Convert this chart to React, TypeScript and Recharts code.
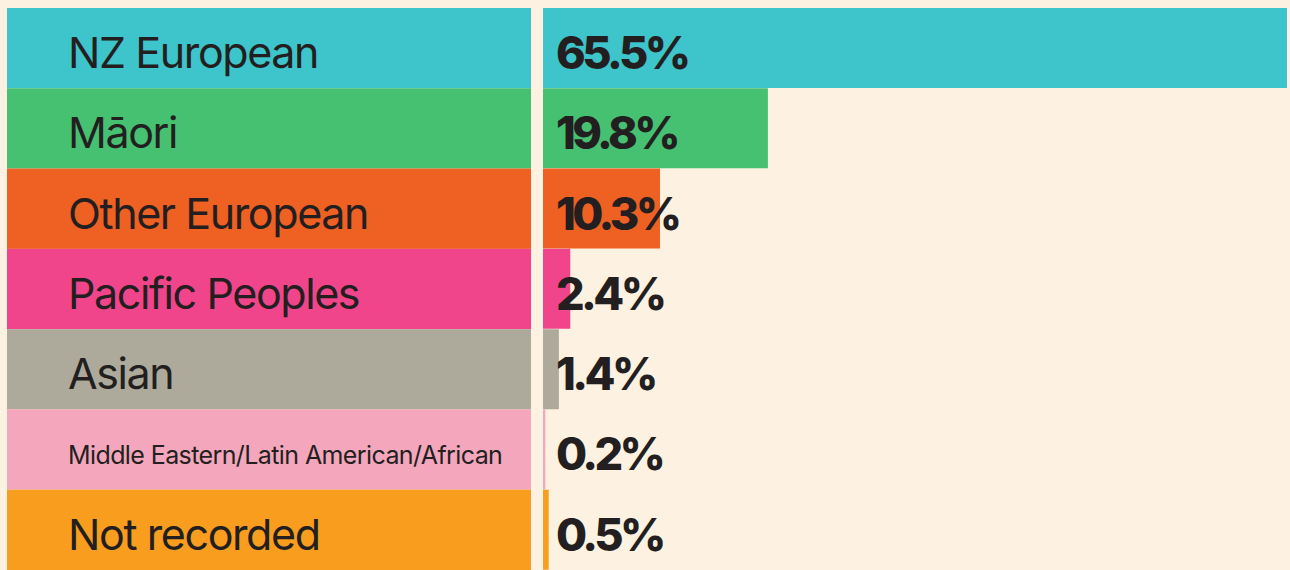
import { BarChart, Bar, XAxis, YAxis, Cell, LabelList } from 'recharts';

const groups = ['NZ European', 'Māori', 'Other European', 'Pacific Peoples', 'Asian', 'Middle Eastern/Latin American/African', 'Not recorded'];
const shares = [65.5, 19.8, 10.3, 2.4, 1.4, 0.2, 0.5];
const colors = ['#3EC4CB', '#46C172', '#EF6023', '#F0458A', '#ADAA9C', '#F4A7BC', '#F89D1E'];

const data = groups.map((g, i) => ({ group: g, share: shares[i], color: colors[i] }));

const BG = '#FDF1E1';
const INK = '#231F20';
const ROW_H = 562 / groups.length;

function GroupTick({ y, payload, index }: any) {
  const small = payload.value.length > 20;
  return (
    <g>
      <rect x={7} y={y - ROW_H / 2} width={524} height={ROW_H} fill={colors[index]} />
      <text x={68} y={y + (small ? 14 : 20)} fill={INK} fontSize={small ? 25 : 43} letterSpacing={small ? -0.6 : -1.4} fontFamily="Inter, sans-serif" textAnchor="start">
        {payload.value}
      </text>
    </g>
  );
}

function ValueLabel({ y, height, value }: any) {
  return (
    <text x={556} y={y + height / 2 + 21} fill={INK} fontSize={45} fontWeight={800} letterSpacing={-3.6} fontFamily="Inter, sans-serif">
      {value}%
    </text>
  );
}

export default function App() {
  return (
    <div style={{ position: 'absolute', left: 0, top: 0, width: 1290, height: 570, background: BG }}>
      <BarChart width={1290} height={570} data={data} layout="vertical" margin={{ top: 8, right: 3, bottom: 0, left: 0 }} barCategoryGap={0}>
        <XAxis type="number" domain={[0, 65.5]} hide />
        <YAxis type="category" dataKey="group" width={543} axisLine={false} tickLine={false} tick={<GroupTick />} interval={0} />
        <Bar dataKey="share" isAnimationActive={false}>
          {data.map((d) => <Cell key={d.group} fill={d.color} />)}
          <LabelList dataKey="share" content={<ValueLabel />} />
        </Bar>
      </BarChart>
    </div>
  );
}
